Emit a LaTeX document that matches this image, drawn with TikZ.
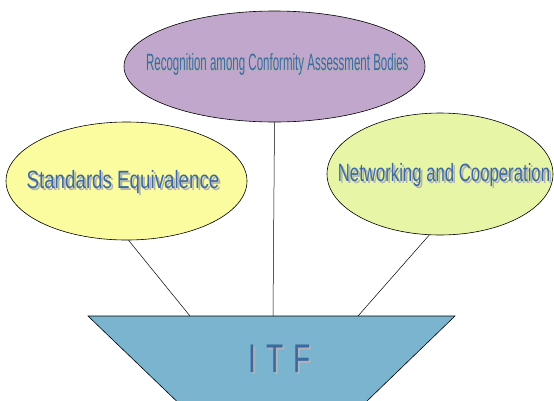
\documentclass[tikz,border=0pt]{standalone}
\usepackage{fontspec}
\setmainfont{Liberation Sans}
\newfontfamily\topfont{Liberation Sans}[FakeStretch=0.49]
\newfontfamily\leftfont{Liberation Sans}[FakeStretch=0.75]
\newfontfamily\rightfont{Liberation Sans}[FakeStretch=0.67]
\newfontfamily\itffont{Liberation Sans}[FakeStretch=0.7,LetterSpace=25]
\usetikzlibrary{shapes.geometric}
\definecolor{txtblue}{HTML}{3B6AA0}
\definecolor{shadowgray}{HTML}{B2B2B8}
\definecolor{topfill}{HTML}{C0A7CB}
\definecolor{leftfill}{HTML}{FBFB9F}
\definecolor{rightfill}{HTML}{E7F5A6}
\definecolor{trapfill}{HTML}{7AB4CF}
\tikzset{
  bubble/.style={ellipse, draw=black, line width=0.6pt, inner sep=0pt},
  label text/.style={text=txtblue, inner sep=0pt, anchor=base},
  link/.style={draw=black, line width=0.5pt}
}
% text with a grey drop shadow, set in one box
\newcommand{\shadowed}[2]{% offset, text
  \makebox[0pt][l]{\hspace*{#1}\raisebox{-#1}{\textcolor{shadowgray}{#2}}}#2}
\begin{document}
\begin{tikzpicture}[x=1pt,y=-1pt]
\useasboundingbox (0,0) rectangle (554,400);
% trapezoid
\coordinate (tl) at (88,316);
\coordinate (tr) at (455,316);
\coordinate (bl) at (176.5,401);
\coordinate (br) at (367,401);
\path[fill=trapfill, draw=black, line width=0.6pt] (bl) -- (tl) -- (tr) -- (br);
% ellipses
\node[bubble, fill=topfill, minimum width=301pt, minimum height=111pt] (top) at (274.5,66.5) {};
\node[bubble, fill=leftfill, minimum width=241pt, minimum height=118pt] (left) at (126.5,181) {};
\node[bubble, fill=rightfill, minimum width=226pt, minimum height=122pt] (right) at (440,174) {};
% connectors
\coordinate (tpL) at (190,316);
\coordinate (tpM) at (273,316);
\coordinate (tpR) at (358,316);
\draw[link] (left.-88) -- (tpL);
\draw[link] (top.south) -- (tpM);
\draw[link] (right.-100) -- (tpR);
% texts
\node[label text, font={\topfont\fontsize{23.5}{23.5}\selectfont}] (ttop) at (277.3,70)
  {\shadowed{1.6pt}{Recognition among Conformity Assessment Bodies}};
\node[label text, font={\leftfont\fontsize{25}{25}\selectfont}] (tleft) at (123,188)
  {\shadowed{2pt}{Standards Equivalence}};
\node[label text, font={\rightfont\fontsize{25}{25}\selectfont}] (tright) at (444,181)
  {\shadowed{2pt}{Networking and Cooperation}};
\node[label text, font={\itffont\fontsize{40}{40}\selectfont}] (titf) at (279.3,372)
  {\shadowed{2.6pt}{ITF}};
\end{tikzpicture}
\end{document}
